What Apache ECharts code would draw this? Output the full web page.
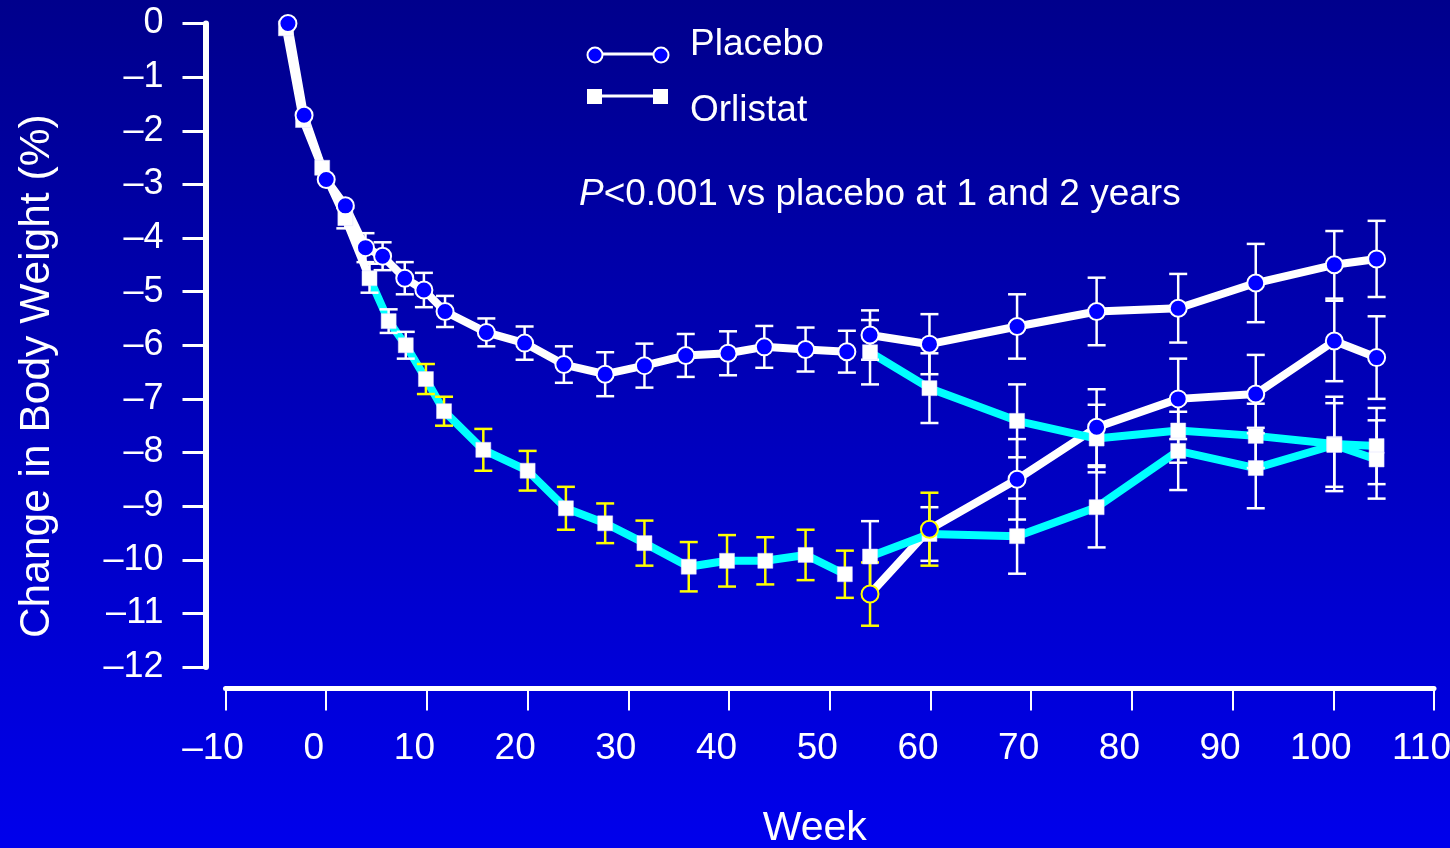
<!DOCTYPE html>
<html><head><meta charset="utf-8">
<script src="https://cdn.jsdelivr.net/npm/echarts@6/dist/echarts.min.js"></script>
<style>html,body{margin:0;padding:0;background:#0000b0;}#c{width:1450px;height:848px;}</style>
</head><body><div id="c"></div>
<script>
// ---- data ----
const xTickValues = [-10,0,10,20,30,40,50,60,70,80,90,100,110];
const yTickValues = [0,-1,-2,-3,-4,-5,-6,-7,-8,-9,-10,-11,-12];

// Year 1 (lead-in from week -4, randomised treatment weeks 0-52)
const placeboWeeks1   = [-3.8,-2.2,0,1.9,3.9,5.6,7.8,9.7,11.8,15.9,19.7,23.6,27.7,31.6,35.7,39.9,43.5,47.6,51.7];
const placeboChange1  = [0,-1.71,-2.91,-3.40,-4.18,-4.34,-4.75,-4.97,-5.37,-5.76,-5.96,-6.36,-6.54,-6.38,-6.19,-6.15,-6.03,-6.08,-6.12];
const placeboErr1     = [0,0,0,0,0.27,0.26,0.30,0.32,0.29,0.26,0.31,0.34,0.41,0.41,0.40,0.41,0.39,0.41,0.39];

const orlistatWeeks1  = [-4.0,-2.3,-0.4,1.9,4.3,6.2,7.9,9.9,11.7,15.6,20.0,23.8,27.7,31.6,36.0,39.8,43.6,47.6,51.5];
const orlistatChange1 = [-0.09,-1.80,-2.69,-3.63,-4.75,-5.55,-6.00,-6.63,-7.23,-7.95,-8.34,-9.04,-9.32,-9.69,-10.13,-10.02,-10.02,-9.91,-10.27];
const orlistatErr1    = [0,0,0,0.19,0.27,0.22,0.25,0.28,0.27,0.39,0.37,0.40,0.37,0.42,0.46,0.48,0.44,0.47,0.44];

// Year 2 (re-randomised groups)
const year2Weeks = [54.0,59.9,68.6,76.5,84.6,92.3,100.1,104.3];
const placeboToPlacebo     = [-5.81,-5.98,-5.65,-5.37,-5.31,-4.84,-4.50,-4.39];
const placeboToPlaceboErr  = [0.46,0.56,0.60,0.63,0.64,0.73,0.63,0.71];
const orlistatToPlacebo    = [-10.64,-9.43,-8.50,-7.53,-7.00,-6.91,-5.92,-6.23];
const orlistatToPlaceboErr = [0.59,0.68,0.75,0.71,0.75,0.73,0.75,0.77];
const placeboToOrlistat    = [-6.13,-6.80,-7.41,-7.74,-7.59,-7.69,-7.84,-7.88];
const placeboToOrlistatErr = [0.60,0.65,0.68,0.63,0.60,0.60,0.88,0.71];
const orlistatToOrlistat   = [-9.94,-9.52,-9.56,-9.02,-7.97,-8.29,-7.86,-8.13];
const orlistatToOrlistatErr= [0.66,0.50,0.70,0.75,0.73,0.75,0.78,0.73];

// ---- styles ----
const WHITE = '#ffffff', CYAN = '#00ffff', YELLOW = '#ffff00', BLUE = '#0000ff';
const FONT = '"Liberation Sans", Arial, Helvetica, sans-serif';

const zip = (xs, ys) => xs.map((x, i) => [x, ys[i]]);
const zip3 = (xs, ys, es) => xs.map((x, i) => [x, ys[i], es[i]]).filter(d => d[2] > 0);

function lineSeries(name, data, color) {
  return { type: 'line', name, data, symbol: 'none', showSymbol: false, silent: true, z: 2,
    lineStyle: { color, width: 8, cap: 'round', join: 'round' } };
}
function barRender(color) {
  return function (params, api) {
    const x = api.value(0), v = api.value(1), e = api.value(2);
    const t = api.coord([x, v + e]), b = api.coord([x, v - e]);
    const hw = 9, st = { stroke: color, lineWidth: 2.5 };
    return { type: 'group', children: [
      { type: 'line', shape: { x1: t[0], y1: t[1], x2: b[0], y2: b[1] }, style: st },
      { type: 'line', shape: { x1: t[0] - hw, y1: t[1], x2: t[0] + hw, y2: t[1] }, style: st },
      { type: 'line', shape: { x1: b[0] - hw, y1: b[1], x2: b[0] + hw, y2: b[1] }, style: st }
    ]};
  };
}

const orlY1 = zip(orlistatWeeks1, orlistatChange1);
const orlE1 = zip3(orlistatWeeks1, orlistatChange1, orlistatErr1);
const opE = zip3(year2Weeks, orlistatToPlacebo, orlistatToPlaceboErr);

const whiteBars = [].concat(
  zip3(placeboWeeks1, placeboChange1, placeboErr1),
  orlE1.filter(d => d[0] < 9),
  zip3(year2Weeks, placeboToPlacebo, placeboToPlaceboErr),
  zip3(year2Weeks, placeboToOrlistat, placeboToOrlistatErr),
  zip3(year2Weeks, orlistatToOrlistat, orlistatToOrlistatErr),
  opE.slice(2)
);
const yellowBars = [].concat(orlE1.filter(d => d[0] >= 9), opE.slice(0, 2));

const squares = [].concat(orlY1, zip(year2Weeks, placeboToOrlistat), zip(year2Weeks, orlistatToOrlistat));
const circles = [].concat(
  zip(placeboWeeks1, placeboChange1),
  zip(year2Weeks, placeboToPlacebo),
  zip(year2Weeks, orlistatToPlacebo).map((d, i) => i < 2 ? { value: d, itemStyle: { borderColor: YELLOW } } : d)
);

const chart = echarts.init(document.getElementById('c'), null, { renderer: 'canvas' });
chart.setOption({
  animation: false,
  backgroundColor: { type: 'linear', x: 0, y: 0, x2: 0, y2: 1,
    colorStops: [{ offset: 0, color: '#00008c' }, { offset: 1, color: '#0000ec' }] },
  textStyle: { fontFamily: FONT },
  grid: { left: 225.5, right: 16, top: 23.5, bottom: 181, containLabel: false, outerBoundsMode: 'none' },
  xAxis: {
    type: 'value', min: -10, max: 110, interval: 10, position: 'bottom', offset: 21.5,
    name: 'Week', nameLocation: 'middle', nameGap: 120,
    nameTextStyle: { color: WHITE, fontSize: 41, fontFamily: FONT, padding: [0, 30, 0, 0] },
    axisLine: { show: true, onZero: false, lineStyle: { color: WHITE, width: 5 } },
    axisTick: { show: true, length: 22, lineStyle: { color: WHITE, width: 2 } },
    axisLabel: { color: WHITE, fontSize: 37, fontFamily: FONT, margin: 42, padding: [0, 25, 0, 0],
      formatter: v => xTickValues.indexOf(v) < 0 ? '' : (v < 0 ? '\u2013' + (-v) : String(v)) },
    splitLine: { show: false }
  },
  yAxis: {
    type: 'value', min: -12, max: 0, interval: 1, position: 'left', offset: 20,
    name: 'Change in Body Weight (%)', nameLocation: 'middle', nameRotate: 90, nameGap: 147,
    nameTextStyle: { color: WHITE, fontSize: 42.5, fontFamily: FONT, padding: [0, 62, 0, 0] },
    axisLine: { show: true, onZero: false, lineStyle: { color: WHITE, width: 6 } },
    axisTick: { show: true, length: 23, lineStyle: { color: WHITE, width: 3 } },
    axisLabel: { color: WHITE, fontSize: 36, fontFamily: FONT, margin: 42,
      formatter: v => yTickValues.indexOf(v) < 0 ? '' : (v < 0 ? '\u2013' + (-v) : String(v)) },
    splitLine: { show: false }
  },
  series: [
    lineSeries('Placebo', zip(placeboWeeks1, placeboChange1), WHITE),
    lineSeries('Orlistat lead-in', orlY1.slice(0, 5), WHITE),
    lineSeries('Orlistat', orlY1.slice(4), CYAN),
    lineSeries('Placebo \u2192 Placebo', zip(year2Weeks, placeboToPlacebo), WHITE),
    lineSeries('Orlistat \u2192 Placebo', zip(year2Weeks, orlistatToPlacebo), WHITE),
    lineSeries('Placebo \u2192 Orlistat', zip(year2Weeks, placeboToOrlistat), CYAN),
    lineSeries('Orlistat \u2192 Orlistat', zip(year2Weeks, orlistatToOrlistat), CYAN),
    { type: 'custom', name: 'SE white', data: whiteBars, renderItem: barRender(WHITE), encode: { x: 0, y: 1 }, z: 3, silent: true },
    { type: 'custom', name: 'SE yellow', data: yellowBars, renderItem: barRender(YELLOW), encode: { x: 0, y: 1 }, z: 3, silent: true },
    { type: 'scatter', name: 'Orlistat points', data: squares, symbol: 'rect', symbolSize: 15, z: 4, silent: true,
      itemStyle: { color: WHITE, borderColor: '#dcdcff', borderWidth: 0.5, opacity: 1 } },
    { type: 'scatter', name: 'Placebo points', data: circles, symbol: 'circle', symbolSize: 17, z: 5, silent: true,
      itemStyle: { color: BLUE, borderColor: WHITE, borderWidth: 2, opacity: 1 } }
  ],
  graphic: [
    { type: 'line', shape: { x1: 595, y1: 54, x2: 661, y2: 54 }, style: { stroke: WHITE, lineWidth: 3 } },
    { type: 'circle', shape: { cx: 595, cy: 55, r: 7.5 }, style: { fill: BLUE, stroke: WHITE, lineWidth: 2 } },
    { type: 'circle', shape: { cx: 661, cy: 55, r: 7.5 }, style: { fill: BLUE, stroke: WHITE, lineWidth: 2 } },
    { type: 'text', x: 690, y: 45, style: { text: 'Placebo', fill: WHITE, fontSize: 37, fontFamily: FONT, verticalAlign: 'middle' } },
    { type: 'line', shape: { x1: 594, y1: 96, x2: 660, y2: 96 }, style: { stroke: WHITE, lineWidth: 3 } },
    { type: 'rect', shape: { x: 587, y: 89, width: 15, height: 15 }, style: { fill: WHITE } },
    { type: 'rect', shape: { x: 653, y: 89, width: 15, height: 15 }, style: { fill: WHITE } },
    { type: 'text', x: 690, y: 111, style: { text: 'Orlistat', fill: WHITE, fontSize: 37, fontFamily: FONT, verticalAlign: 'middle' } },
    { type: 'text', x: 579, y: 195, style: {
        text: '{i|P}<0.001 vs placebo at 1 and 2 years', fill: WHITE, fontSize: 37, fontFamily: FONT, verticalAlign: 'middle',
        rich: { i: { fontStyle: 'italic', fontSize: 37, fontFamily: FONT, fill: WHITE } } } }
  ]
});
</script>
</body></html>
